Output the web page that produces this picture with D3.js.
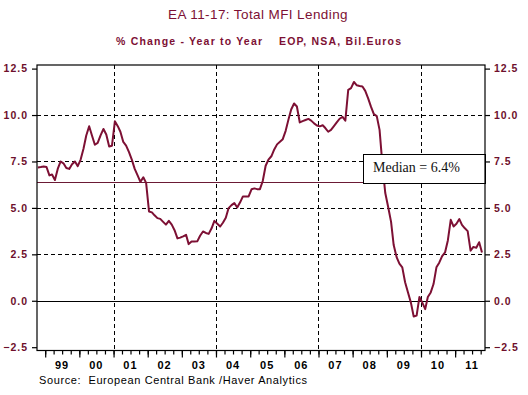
<!DOCTYPE html>
<html>
<head>
<meta charset="utf-8">
<script src="https://cdn.jsdelivr.net/npm/d3@7.9.0/dist/d3.min.js"></script>
<style>
  body { margin: 0; background: #fff; }
  svg { display: block; }
  text { font-family: "Liberation Sans", Arial, sans-serif; }
</style>
</head>
<body>
<svg id="chart" width="528" height="395"></svg>
<script>
// monthly y/y % change, Oct 1998 .. Oct 2011
const startYear = 1998, startMonth = 9;
const lending = [
  7.18, 7.2, 7.23,
  7.2, 6.75, 6.8, 6.5, 7.1, 7.5, 7.4, 7.15, 7.1, 7.35, 7.5, 7.25,
  7.6, 8.2, 8.9, 9.4, 8.9, 8.4, 8.5, 8.9, 9.25, 8.95, 8.31, 8.35,
  9.66, 9.4, 9.1, 8.55, 8.35, 8.0, 7.6, 7.1, 6.75, 6.4, 6.65, 6.35,
  4.81, 4.76, 4.6, 4.45, 4.41, 4.25, 4.1, 4.3, 4.1, 3.8, 3.36, 3.4,
  3.47, 3.55, 3.05, 3.19, 3.19, 3.2, 3.5, 3.73, 3.65, 3.6, 3.9, 4.3,
  4.15, 4.0, 4.2, 4.47, 4.99, 5.15, 5.26, 5.02, 5.3, 5.62, 5.62, 5.62,
  6.0, 6.05, 6.01, 6.01, 6.45, 7.27, 7.6, 7.78, 8.15, 8.42, 8.56, 8.7,
  9.15, 9.78, 10.3, 10.62, 10.46, 9.6, 9.67, 9.73, 9.79, 9.7, 9.55, 9.44,
  9.39, 9.45, 9.3, 9.1, 9.2, 9.4, 9.6, 9.8, 9.9, 9.7, 11.36, 11.45,
  11.78, 11.6, 11.56, 11.54, 11.3, 10.9, 10.45, 10.05, 9.94, 9.2, 7.3, 5.8,
  5.05, 4.25, 3.0, 2.35, 2.0, 1.8, 1.0, 0.45, -0.1, -0.85, -0.8, 0.2,
  -0.1, -0.45, 0.2, 0.45, 0.9, 1.8, 2.05, 2.4, 2.6, 3.25, 4.36, 4.0,
  4.15, 4.4, 4.09, 3.9, 3.75, 2.7, 2.9, 2.85, 3.15, 2.6
];
const median = 6.4;
const yTicks = [-2.5, 0, 2.5, 5, 7.5, 10, 12.5];
const yGrid = [2.5, 5, 7.5, 10];
const years = [1999, 2000, 2001, 2002, 2003, 2004, 2005, 2006, 2007, 2008, 2009, 2010, 2011];
const yearLabels = ['99', '00', '01', '02', '03', '04', '05', '06', '07', '08', '09', '10', '11'];
const gridYears = [2001, 2004, 2007, 2010];

const title = 'EA 11-17: Total MFI Lending';
const subLeft = '% Change - Year to Year';
const subRight = 'EOP, NSA, Bil.Euros';
const source = 'Source:  European Central Bank /Haver Analytics';

const maroon = '#7d1034';
const labelColor = '#6e0f2c';

const data = lending.map((v, i) => ({ date: new Date(startYear, startMonth + i, 15), value: v }));

const plotLeft = 37, plotRight = 485, plotTop = 65, plotBottom = 350.5;

const x = d3.scaleTime()
  .domain([new Date(1999, 0, 1), new Date(2010, 0, 1)])
  .range([45.2, 421]);
const y = d3.scaleLinear()
  .domain([-2.5, 12.5])
  .range([347.2, 68.6]);

const svg = d3.select('#chart');

// titles
svg.append('text').attr('x', 258).attr('y', 19).attr('text-anchor', 'middle')
  .attr('font-size', 13.5).attr('fill', maroon).attr('letter-spacing', 0.4).text(title);
svg.append('text').attr('x', 116).attr('y', 45).attr('font-size', 10.5).attr('font-weight', 'bold')
  .attr('fill', maroon).attr('textLength', 146).attr('lengthAdjust', 'spacing').text(subLeft);
svg.append('text').attr('x', 279).attr('y', 45).attr('font-size', 10.5).attr('font-weight', 'bold')
  .attr('fill', maroon).attr('textLength', 122).attr('lengthAdjust', 'spacing').text(subRight);

// grid
const grid = svg.append('g').attr('stroke', '#000').attr('stroke-width', 1).attr('stroke-dasharray', '4,3');
grid.selectAll('line.h').data(yGrid).join('line').attr('class', 'h')
  .attr('x1', plotLeft).attr('x2', plotRight)
  .attr('y1', d => Math.round(y(d)) + 0.5).attr('y2', d => Math.round(y(d)) + 0.5);
grid.selectAll('line.v').data(gridYears).join('line').attr('class', 'v')
  .attr('x1', d => Math.round(x(new Date(d, 0, 1))) + 0.5).attr('x2', d => Math.round(x(new Date(d, 0, 1))) + 0.5)
  .attr('y1', plotTop).attr('y2', plotBottom);

// zero line
svg.append('line').attr('x1', plotLeft).attr('x2', plotRight)
  .attr('y1', Math.round(y(0)) + 0.5).attr('y2', Math.round(y(0)) + 0.5)
  .attr('stroke', '#000').attr('stroke-width', 1.2);

// median line
svg.append('line').attr('x1', plotLeft).attr('x2', plotRight)
  .attr('y1', Math.round(y(median)) + 0.5).attr('y2', Math.round(y(median)) + 0.5)
  .attr('stroke', '#6b1a35').attr('stroke-width', 1.2);

// series
svg.append('path').datum(data)
  .attr('fill', 'none').attr('stroke', maroon).attr('stroke-width', 2)
  .attr('stroke-linejoin', 'round')
  .attr('d', d3.line().x(d => x(d.date)).y(d => y(d.value)));

// median box
svg.append('rect').attr('x', 363.5).attr('y', 154.5).attr('width', 122).attr('height', 29)
  .attr('fill', '#fff').attr('stroke', '#000').attr('stroke-width', 1);
svg.append('text').attr('x', 373).attr('y', 172).attr('font-size', 14)
  .style('font-family', '"Liberation Serif", "Times New Roman", serif')
  .attr('fill', '#111').text('Median = ' + median + '%');

// frame
svg.append('rect').attr('x', plotLeft).attr('y', plotTop)
  .attr('width', plotRight - plotLeft).attr('height', plotBottom - plotTop)
  .attr('fill', 'none').attr('stroke', '#000').attr('stroke-width', 1.2);

// y axes
const fmt = d3.format('.1f');
const yLeft = svg.append('g').attr('transform', `translate(${plotLeft},0)`)
  .call(d3.axisLeft(y).tickValues(yTicks).tickSize(5).tickPadding(4).tickFormat(fmt));
const yRight = svg.append('g').attr('transform', `translate(${plotRight},0)`)
  .call(d3.axisRight(y).tickValues(yTicks).tickSize(5).tickPadding(4).tickFormat(fmt));
[yLeft, yRight].forEach(g => {
  g.select('.domain').remove();
  g.selectAll('.tick line').attr('stroke', '#000').attr('stroke-width', 1.2);
  g.selectAll('.tick text').attr('fill', labelColor).attr('font-size', 10.5)
    .attr('font-weight', 'bold').attr('letter-spacing', 1)
    .style('font-family', '"Liberation Sans", Arial, sans-serif');
});

// x axis: quarterly minor, yearly major ticks
const quarters = d3.timeMonth.every(3).range(new Date(1998, 9, 1), new Date(2011, 11, 1))
  .filter(d => x(d) > plotLeft && x(d) < plotRight);
const xMinor = svg.append('g').attr('transform', `translate(0,${plotBottom})`)
  .call(d3.axisBottom(x).tickValues(quarters).tickSize(4).tickFormat(''));
const xMajor = svg.append('g').attr('transform', `translate(0,${plotBottom})`)
  .call(d3.axisBottom(x).tickValues(years.map(yr => new Date(yr, 0, 1))).tickSize(7).tickFormat(''));
[xMinor, xMajor].forEach(g => {
  g.select('.domain').remove();
  g.selectAll('.tick line').attr('stroke', '#000').attr('stroke-width', 1.2);
});

svg.append('g').selectAll('text').data(years).join('text')
  .attr('x', d => x(new Date(d, 6, 1)))
  .attr('y', 369).attr('text-anchor', 'middle')
  .attr('font-size', 11).attr('font-weight', 'bold').attr('letter-spacing', 1).attr('fill', '#000')
  .text((d, i) => yearLabels[i]);

svg.append('text').attr('x', 39).attr('y', 384).attr('font-size', 11).attr('fill', '#000')
  .attr('textLength', 268).attr('lengthAdjust', 'spacing')
  .style('white-space', 'pre').text(source);
</script>
</body>
</html>
